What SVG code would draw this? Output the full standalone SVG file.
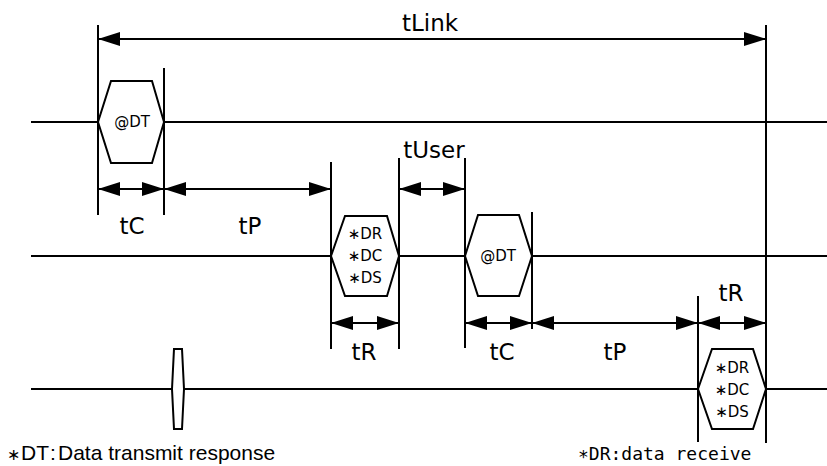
<svg xmlns="http://www.w3.org/2000/svg" width="827" height="466" viewBox="0 0 827 466">
<style>
.ln{stroke:#000;stroke-width:2;fill:none}
.hx{stroke:#000;stroke-width:2;fill:#fff}
.ar{stroke:#000;stroke-width:2;fill:none;marker-start:url(#ah);marker-end:url(#ah)}
.lb{font-family:"DejaVu Sans",sans-serif;font-size:23px;text-anchor:middle;fill:#000}
.sm{font-family:"DejaVu Sans",sans-serif;font-size:15px;text-anchor:middle;fill:#000}
.fn{font-family:"Liberation Sans",Arial,sans-serif;font-size:21px;fill:#000}
.ast{font-family:"DejaVu Sans",sans-serif;font-size:16px}
.mono{font-family:"DejaVu Sans Mono","Liberation Mono",monospace;font-size:18px;fill:#000}
</style>
<defs>
<marker id="ah" markerUnits="userSpaceOnUse" markerWidth="22" markerHeight="14" refX="22" refY="7" orient="auto-start-reverse" viewBox="0 0 22 14">
<path d="M0,0 L22,7 L0,14 Z" fill="#000"/>
</marker>
</defs>
<rect width="827" height="466" fill="#fff"/>
<g id="signals">
<path class="ln" d="M31,122H98M164,122H827"/>
<path class="ln" d="M31,256H331M399,256H465M532,256H827"/>
<path class="ln" d="M31,389H172M184,389H698M766,389H827"/>
</g>
<g id="guides">
<path class="ln" d="M98,25V215M164,68V215M331,162V349M399,158V349M465,158V348M532,212V329M698,296V442M766,25V443"/>
</g>
<g id="connectors">
<line class="ar" x1="98" y1="39" x2="766" y2="39"/>
<line class="ar" x1="98" y1="189" x2="164" y2="189"/>
<line class="ar" x1="164" y1="189" x2="331" y2="189"/>
<line class="ar" x1="399" y1="189" x2="465" y2="189"/>
<line class="ar" x1="331" y1="323" x2="399" y2="323"/>
<line class="ar" x1="465" y1="323" x2="532" y2="323"/>
<line class="ar" x1="532" y1="323" x2="698" y2="323"/>
<line class="ar" x1="698" y1="323" x2="766" y2="323"/>
</g>
<g id="dt1">
<polygon class="hx" points="98,122 111,81 152,81 164,122 152,163 111,163"/>
<text class="sm" x="132" y="127">@DT</text>
</g>
<g id="dr1">
<polygon class="hx" points="331,256 345,216 387,216 399,256 387,296 345,296"/>
<text class="sm" x="365" y="239">∗DR</text>
<text class="sm" x="365" y="261">∗DC</text>
<text class="sm" x="365" y="283">∗DS</text>
</g>
<g id="dt2">
<polygon class="hx" points="465,256 478,215 519,215 532,256 519,296 478,296"/>
<text class="sm" x="498" y="261">@DT</text>
</g>
<g id="dr2">
<polygon class="hx" points="698,389 712,349 753,349 766,389 753,429 712,429"/>
<text class="sm" x="732" y="373">∗DR</text>
<text class="sm" x="732" y="395">∗DC</text>
<text class="sm" x="732" y="417">∗DS</text>
</g>
<g id="pulse">
<polygon class="hx" points="172,389 174,349 182,349 184,389 182,429 174,429"/>
</g>
<g id="labels">
<text class="lb" x="430" y="31">tLink</text>
<text class="lb" x="434" y="158">tUser</text>
<text class="lb" x="132" y="234">tC</text>
<text class="lb" x="250" y="234">tP</text>
<text class="lb" x="364" y="360">tR</text>
<text class="lb" x="502" y="360">tC</text>
<text class="lb" x="615" y="360">tP</text>
<text class="lb" x="731" y="301">tR</text>
</g>
<g id="notes">
<text class="fn" x="7" y="460"><tspan class="ast">∗</tspan><tspan x="21">DT</tspan><tspan x="50">:</tspan><tspan x="58">Data transmit response</tspan></text>
<text class="mono" x="578" y="460">∗DR:data receive</text>
</g>
</svg>
